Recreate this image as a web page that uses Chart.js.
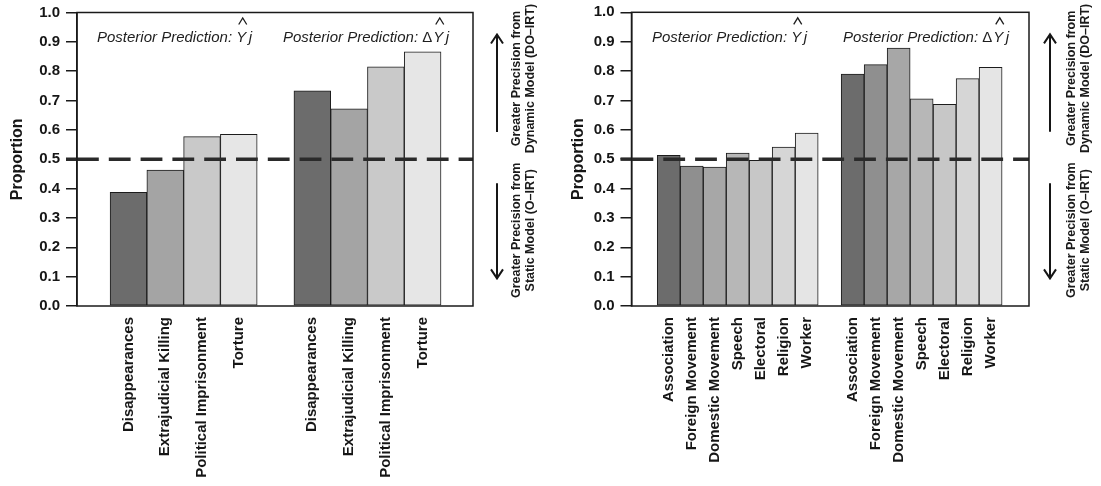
<!DOCTYPE html>
<html>
<head>
<meta charset="utf-8">
<script src="https://cdn.jsdelivr.net/npm/chart.js@4.4.1/dist/chart.umd.min.js"></script>
<style>
  html, body { margin: 0; padding: 0; background: #ffffff; }
  #wrap { position: relative; width: 1101px; height: 486px; overflow: hidden; }
  .panel { position: absolute; top: 0; height: 486px; }
</style>
</head>
<body>
<div id="wrap">
  <div class="panel" style="left:0;width:550px"><canvas id="integrity"></canvas></div>
  <div class="panel" style="left:550px;width:551px"><canvas id="empowerment"></canvas></div>
</div>
<script>
// Physical integrity rights (left panel)
const integrityCategories = ['Disappearances', 'Extrajudicial Killing', 'Political Imprisonment', 'Torture'];
const integrityLevels  = [0.387, 0.463, 0.577, 0.585];   // posterior prediction of Y
const integrityChanges = [0.733, 0.672, 0.815, 0.866];   // posterior prediction of change in Y
const integrityShades  = ['#6c6c6c', '#a4a4a4', '#c9c9c9', '#e6e6e6'];

// Empowerment rights (right panel)
const empowermentCategories = ['Association', 'Foreign Movement', 'Domestic Movement', 'Speech', 'Electoral', 'Religion', 'Worker'];
const empowermentLevels  = [0.513, 0.476, 0.473, 0.521, 0.496, 0.541, 0.589];
const empowermentChanges = [0.790, 0.822, 0.878, 0.705, 0.687, 0.774, 0.813];
const empowermentShades  = ['#6c6c6c', '#8f8f8f', '#a7a7a7', '#b7b7b7', '#c7c7c7', '#d6d6d6', '#e5e5e5'];

const proportionTicks = [0.0, 0.1, 0.2, 0.3, 0.4, 0.5, 0.6, 0.7, 0.8, 0.9, 1.0];
const parityLevel = 0.5;
const axisTitle = 'Proportion';
const predictionLead = 'Posterior Prediction: ';
const upperNote = ['Greater Precision from', 'Dynamic Model (DO\u2013IRT)'];
const lowerNote = ['Greater Precision from', 'Static Model (O\u2013IRT)'];

const FONT = '"Liberation Sans", Arial, Helvetica, sans-serif';
Chart.defaults.font.family = FONT;
Chart.defaults.color = '#161616';

// Writes "Posterior Prediction: Ŷj" (optionally with a leading Δ), drawing the hat as a small chevron.
function drawPrediction(ctx, x, baseline, withDelta, size) {
  ctx.save();
  ctx.fillStyle = '#1e1e1e';
  ctx.textAlign = 'left';
  ctx.textBaseline = 'alphabetic';
  ctx.font = `italic ${size}px ${FONT}`;
  ctx.fillText(predictionLead, x, baseline);
  x += ctx.measureText(predictionLead).width;
  if (withDelta) {
    ctx.font = `${size}px ${FONT}`;
    ctx.fillText('\u0394', x, baseline);
    x += ctx.measureText('\u0394').width + 1;
    ctx.font = `italic ${size}px ${FONT}`;
  }
  const yWidth = ctx.measureText('Y').width;
  ctx.fillText('Y', x, baseline);
  const cx = x + yWidth / 2 + 1.5;
  ctx.strokeStyle = '#1e1e1e';
  ctx.lineWidth = 1.3;
  ctx.beginPath();
  ctx.moveTo(cx - 4, baseline - 17.5);
  ctx.lineTo(cx, baseline - 24);
  ctx.lineTo(cx + 4, baseline - 17.5);
  ctx.stroke();
  x += yWidth + 2.5;
  ctx.fillText('j', x, baseline);
  ctx.restore();
}

function drawArrow(ctx, x, yFrom, yTo) {
  const dir = yTo < yFrom ? -1 : 1;
  ctx.beginPath();
  ctx.moveTo(x, yFrom);
  ctx.lineTo(x, yTo);
  ctx.moveTo(x - 6, yTo - dir * 9);
  ctx.lineTo(x, yTo);
  ctx.lineTo(x + 6, yTo - dir * 9);
  ctx.stroke();
}

function drawRotatedLines(ctx, lines, xCenters, yCenter) {
  lines.forEach((line, i) => {
    ctx.save();
    ctx.translate(xCenters[i], yCenter);
    ctx.rotate(-Math.PI / 2);
    ctx.fillText(line, 0, 0);
    ctx.restore();
  });
}

// Frame, parity line, panel captions and the side annotation
const decorations = {
  id: 'decorations',
  afterDatasetsDraw(chart, args, opts) {
    const { ctx, chartArea: a, scales: { y } } = chart;
    const yp = y.getPixelForValue(parityLevel);
    ctx.save();
    ctx.strokeStyle = '#2a2a2a';
    ctx.lineWidth = 3.5;
    // short solid lead-in over the tick mark
    ctx.beginPath();
    ctx.moveTo(a.left - 11, yp);
    ctx.lineTo(a.left, yp);
    ctx.stroke();
    // parity line
    ctx.setLineDash([21.8, 10]);
    ctx.beginPath();
    ctx.moveTo(a.left, yp);
    ctx.lineTo(a.right, yp);
    ctx.stroke();
    ctx.setLineDash([]);
    // frame
    ctx.strokeStyle = '#1a1a1a';
    ctx.lineWidth = 1.5;
    ctx.strokeRect(a.left, a.top, a.right - a.left, a.bottom - a.top);
    ctx.restore();
  },
  afterDraw(chart, args, opts) {
    const { ctx, chartArea: a, scales: { y } } = chart;
    ctx.save();
    const baseline = a.top + 29.5;
    drawPrediction(ctx, a.left + opts.captionOffsets[0], baseline, false, opts.captionSize);
    drawPrediction(ctx, a.left + opts.captionOffsets[1], baseline, true, opts.captionSize);

    ctx.strokeStyle = '#161616';
    ctx.lineWidth = 2;
    const ax = a.right + opts.arrowOffset;
    drawArrow(ctx, ax, y.getPixelForValue(0.593), y.getPixelForValue(0.925));
    drawArrow(ctx, ax, y.getPixelForValue(0.418), y.getPixelForValue(0.094));

    ctx.fillStyle = '#1a1a1a';
    ctx.font = `bold 12.5px ${FONT}`;
    ctx.textAlign = 'center';
    ctx.textBaseline = 'middle';
    const xs = opts.noteOffsets.map(o => a.right + o);
    drawRotatedLines(ctx, upperNote, xs, y.getPixelForValue(0.775));
    drawRotatedLines(ctx, lowerNote, xs, y.getPixelForValue(0.258));
    ctx.restore();
  }
};

function buildPanel(canvasId, categories, levels, changes, shades, layout) {
  const n = categories.length;
  const points = [];
  const colors = [];
  const labelAt = {};
  levels.forEach((v, i) => { points.push({ x: i, y: v }); colors.push(shades[i]); labelAt[i] = categories[i]; });
  changes.forEach((v, i) => { points.push({ x: n + 1 + i, y: v }); colors.push(shades[i]); labelAt[n + 1 + i] = categories[i]; });
  const positions = points.map(p => p.x);

  return new Chart(document.getElementById(canvasId), {
    type: 'bar',
    data: {
      datasets: [{
        data: points,
        backgroundColor: colors,
        borderColor: '#1c1c1c',
        borderWidth: 1,
        borderSkipped: false,
        barPercentage: 1,
        categoryPercentage: 1
      }]
    },
    options: {
      responsive: true,
      maintainAspectRatio: false,
      animation: false,
      events: [],
      layout: { padding: { top: layout.top, right: layout.right, left: 0, bottom: 0 } },
      plugins: {
        legend: { display: false },
        tooltip: { enabled: false },
        decorations: {
          captionOffsets: layout.captions,
          captionSize: 15,
          arrowOffset: layout.arrow,
          noteOffsets: layout.notes
        }
      },
      scales: {
        x: {
          type: 'linear',
          offset: false,
          min: -0.5 - layout.padLeft,
          max: 2 * n + 0.5 + layout.padRight,
          grid: { display: false },
          border: { display: false },
          afterBuildTicks(scale) { scale.ticks = positions.map(v => ({ value: v })); },
          afterFit(scale) { scale.height = 486 - 306; scale.paddingLeft = 0; scale.paddingRight = 0; },
          ticks: {
            autoSkip: false,
            minRotation: 90,
            maxRotation: 90,
            padding: 3,
            color: '#161616',
            font: { size: 15, weight: 'bold' },
            callback: (v) => labelAt[v] ?? ''
          }
        },
        y: {
          min: 0,
          max: 1,
          afterBuildTicks(scale) { scale.ticks = proportionTicks.map(v => ({ value: v })); },
          afterFit(scale) { scale.width = layout.axisWidth; scale.paddingTop = 0; scale.paddingBottom = 0; },
          grid: { drawOnChartArea: false, drawTicks: true, tickLength: 11, color: '#1a1a1a', lineWidth: 1.5 },
          border: { display: true, color: '#1a1a1a', width: 1.5 },
          ticks: {
            padding: 6,
            color: '#161616',
            font: { size: 15, weight: 'bold' },
            callback: (v) => Number(v).toFixed(1)
          },
          title: {
            display: true,
            text: axisTitle,
            color: '#161616',
            font: { size: 16, weight: 'bold' },
            padding: { top: layout.titlePad, bottom: 0 }
          }
        }
      }
    },
    plugins: [decorations]
  });
}

buildPanel('integrity', integrityCategories, integrityLevels, integrityChanges, integrityShades, {
  top: 12.5, right: 77, axisWidth: 77, padLeft: 0.9, padRight: 0.87, titlePad: 8,
  captions: [20, 206], arrow: 24, notes: [44, 58]
});
buildPanel('empowerment', empowermentCategories, empowermentLevels, empowermentChanges, empowermentShades, {
  top: 12.3, right: 72, axisWidth: 81.5, padLeft: 1.12, padRight: 1.17, titlePad: 18.5,
  captions: [20.5, 211.5], arrow: 21, notes: [43, 57]
});
</script>
</body>
</html>
